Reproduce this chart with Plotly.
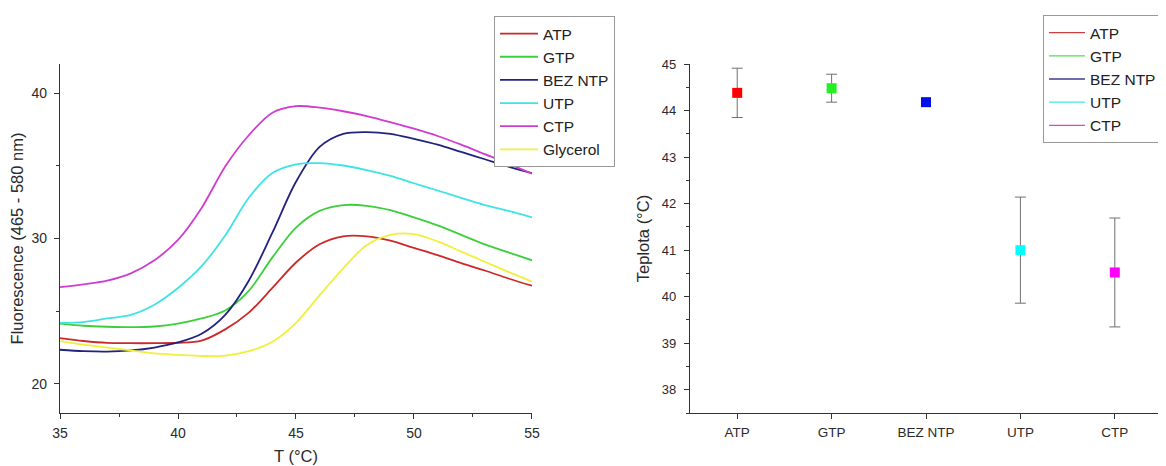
import plotly.graph_objects as go

# ---------------- data ----------------
temps = [35, 36, 37, 38, 39, 40, 41, 42, 43, 44, 45, 46, 47, 48, 49, 50, 51, 52, 53, 54, 55]

atp = [23.15, 22.95, 22.82, 22.80, 22.80, 22.83, 22.98, 23.75, 24.90, 26.60, 28.35,
       29.60, 30.15, 30.15, 29.85, 29.35, 28.85, 28.30, 27.80, 27.25, 26.75]
gtp = [24.15, 24.00, 23.93, 23.90, 23.95, 24.15, 24.50, 25.05, 26.40, 28.70, 30.75,
       31.90, 32.30, 32.25, 31.95, 31.45, 30.90, 30.25, 29.60, 29.05, 28.50]
bez_ntp = [22.35, 22.25, 22.22, 22.30, 22.50, 22.85, 23.45, 24.75, 27.10, 30.40, 33.90,
           36.30, 37.20, 37.32, 37.20, 36.85, 36.45, 35.95, 35.45, 34.95, 34.50]
utp = [24.20, 24.25, 24.50, 24.75, 25.45, 26.60, 28.10, 30.20, 32.80, 34.50, 35.10,
       35.18, 35.02, 34.70, 34.30, 33.80, 33.30, 32.80, 32.30, 31.90, 31.45]
ctp = [26.65, 26.85, 27.10, 27.60, 28.50, 29.90, 32.10, 34.95, 37.10, 38.65, 39.10,
       39.00, 38.75, 38.42, 38.00, 37.55, 37.05, 36.45, 35.80, 35.15, 34.45]
glycerol = [22.95, 22.70, 22.50, 22.30, 22.10, 22.00, 21.92, 21.95, 22.25, 22.90, 24.20,
            26.10, 27.95, 29.55, 30.25, 30.30, 29.80, 29.10, 28.40, 27.70, 27.03]

curve_names = ["ATP", "GTP", "BEZ NTP", "UTP", "CTP", "Glycerol"]
curve_values = [atp, gtp, bez_ntp, utp, ctp, glycerol]
curve_colors = ["#cc2a2a", "#3ccf3c", "#23237f", "#3fe3e3", "#d03cd0", "#f0f03c"]

categories = ["ATP", "GTP", "BEZ NTP", "UTP", "CTP"]
tm_values = [44.38, 44.48, 44.18, 41.00, 40.52]
tm_errors = [0.53, 0.30, 0.0, 1.14, 1.17]
marker_colors = ["#ff0000", "#22f022", "#0010e8", "#00ffff", "#ff00ff"]
legend2_colors = ["#c84040", "#50e050", "#3c3c8c", "#40e8e8", "#e040e0"]

FONT = "Liberation Sans, Arial, sans-serif"
TXT = "#2a2a2a"
AX = "#333333"

fig = go.Figure()

for name, vals, col in zip(curve_names, curve_values, curve_colors):
    fig.add_trace(go.Scatter(
        x=temps, y=vals, name=name, mode="lines",
        line=dict(color=col, width=1.8, shape="spline", smoothing=0.9),
        xaxis="x", yaxis="y", legend="legend"))

for cat, v, e, col in zip(categories, tm_values, tm_errors, marker_colors):
    fig.add_trace(go.Scatter(
        x=[cat], y=[v], mode="markers", showlegend=False,
        marker=dict(symbol="square", size=10, color=col, line=dict(width=0)),
        error_y=dict(type="data", array=[e], visible=e > 0, color="#707070",
                     thickness=1, width=5.5),
        xaxis="x2", yaxis="y2"))

for cat, col in zip(categories, legend2_colors):
    fig.add_trace(go.Scatter(
        x=[None], y=[None], mode="lines", name=cat,
        line=dict(color=col, width=1.3),
        xaxis="x2", yaxis="y2", legend="legend2"))

axis_common = dict(showline=True, linecolor=AX, linewidth=1.3, showgrid=False,
                   zeroline=False, ticks="outside", tickcolor=AX, ticklen=5,
                   tickwidth=1.2, color=TXT)

fig.update_layout(
    width=1158, height=458,
    margin=dict(l=52, r=4, t=56, b=53, autoexpand=False),
    paper_bgcolor="white", plot_bgcolor="white",
    font=dict(family=FONT, color=TXT),
    xaxis=dict(domain=[0, 0.4283], range=[35, 55], tickmode="array",
               tickvals=[35, 40, 45, 50, 55], tickfont=dict(size=14),
               ticklabelstandoff=2,
               minor=dict(tickvals=[37.5, 42.5, 47.5, 52.5], ticks="outside",
                          ticklen=3, tickcolor=AX),
               title=dict(text="T (°C)", font=dict(size=16.5), standoff=10),
               anchor="y", **axis_common),
    yaxis=dict(domain=[0, 1], range=[18, 42], tickmode="array",
               tickvals=[20, 30, 40], tickfont=dict(size=14),
               ticklabelstandoff=4,
               minor=dict(tickvals=[25, 35], ticks="outside", ticklen=3,
                          tickcolor=AX),
               title=dict(text="Fluorescence (465 - 580 nm)", font=dict(size=16.5),
                          standoff=8),
               anchor="x", **axis_common),
    xaxis2=dict(domain=[0.5717, 1], type="category", range=[-0.5, 4.5],
                categoryorder="array", categoryarray=categories,
                tickfont=dict(size=13.5), ticklabelstandoff=2,
                anchor="y2", **axis_common),
    yaxis2=dict(domain=[0, 1], range=[37.5, 45], tickmode="array",
                tickvals=[38, 39, 40, 41, 42, 43, 44, 45], tickfont=dict(size=13),
                ticklabelstandoff=5,
                minor=dict(tickvals=[37.5, 38.5, 39.5, 40.5, 41.5, 42.5, 43.5, 44.5],
                           ticks="outside", ticklen=3, tickcolor=AX),
                title=dict(text="Teplota (°C)", font=dict(size=16.5), standoff=8),
                anchor="x2", **axis_common),
    legend=dict(x=0.3938, y=1.1375, xanchor="left", yanchor="top",
                bgcolor="white", bordercolor="#999999", borderwidth=1,
                font=dict(size=15.5, family=FONT, color="#222"), itemwidth=38,
                tracegroupgap=0),
    legend2=dict(x=0.892, y=1.14, xanchor="left", yanchor="top",
                 bgcolor="white", bordercolor="#999999", borderwidth=1,
                 font=dict(size=15.5, family=FONT, color="#222"), itemwidth=36,
                 tracegroupgap=0),
)

fig.write_html("out.html")
